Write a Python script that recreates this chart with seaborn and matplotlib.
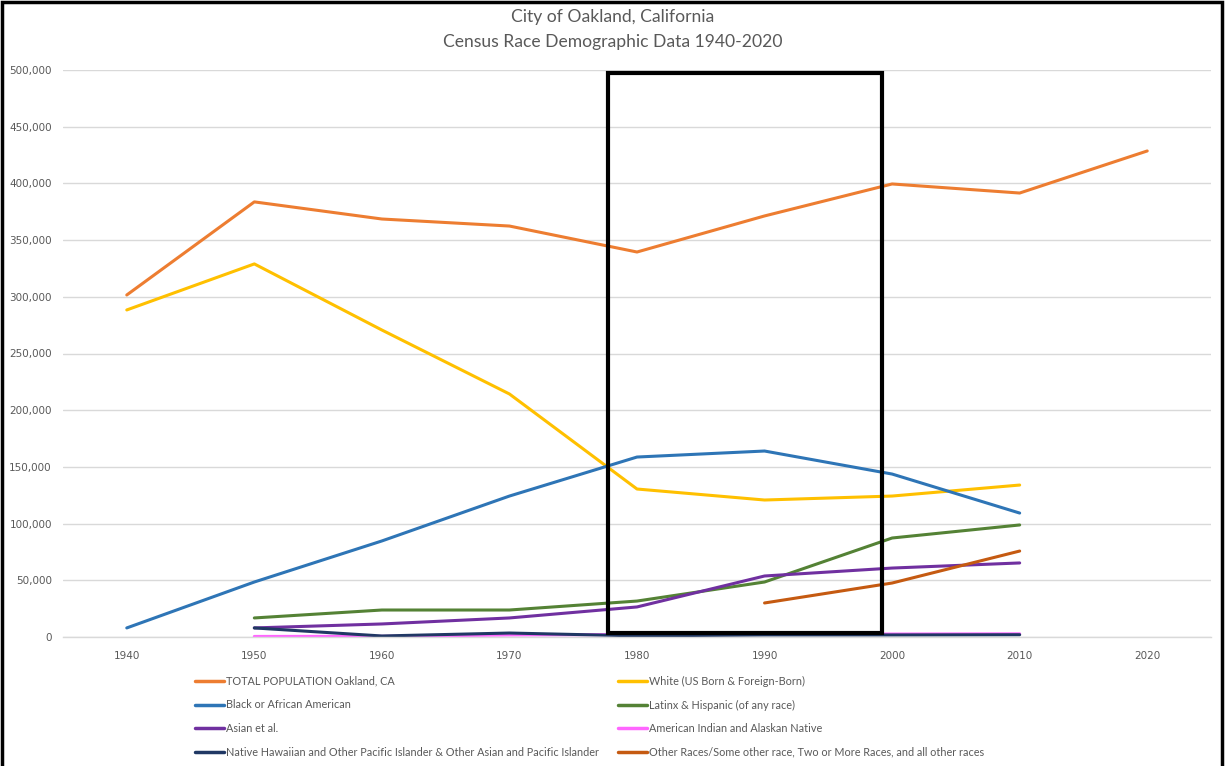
import matplotlib
matplotlib.use("Agg")
import matplotlib.pyplot as plt
import matplotlib.patches as mpatches
from matplotlib.lines import Line2D
from matplotlib.ticker import FuncFormatter
import numpy as np
import pandas as pd
import seaborn as sns

# Census years
years = [1940, 1950, 1960, 1970, 1980, 1990, 2000, 2010, 2020]

# Population by group (None = not reported)
total_population = [301600, 383700, 368600, 362400, 339500, 371300, 399500, 391500, 428600]
white = [288400, 329000, 270700, 214300, 130500, 120800, 124300, 134000, None]
black = [8000, 48500, 84700, 124300, 158700, 164000, 143700, 109300, None]
latinx = [None, 16800, 23800, 23800, 31700, 48500, 87300, 98800, None]
asian = [None, 8000, 11500, 16800, 26500, 53800, 60800, 65300, None]
american_indian = [None, 500, 600, 1800, 2200, 2600, 2600, 2800, None]
pacific_islander = [None, 8000, 900, 3500, 1000, 1800, 1800, 2000, None]
other_races = [None, None, None, None, None, 30000, 47600, 75800, None]

series_names = [
    "TOTAL POPULATION Oakland, CA",
    "White (US Born & Foreign-Born)",
    "Black or African American",
    "Latinx & Hispanic (of any race)",
    "Asian et al.",
    "American Indian and Alaskan Native",
    "Native Hawaiian and Other Pacific Islander & Other Asian and Pacific Islander",
    "Other Races/Some other race, Two or More Races, and all other races",
]
series_values = [total_population, white, black, latinx, asian,
                 american_indian, pacific_islander, other_races]
series_colors = ["#ED7D31", "#FFC000", "#2E75B6", "#548235", "#7030A0",
                 "#FF66FF", "#203864", "#C55A11"]

frames = []
for name, vals in zip(series_names, series_values):
    frames.append(pd.DataFrame({"Year": years, "Population": vals, "Group": name}))
df = pd.concat(frames, ignore_index=True).dropna()
df["Population"] = df["Population"].astype(float)

sns.set_theme(style="white")
plt.rcParams["font.family"] = ["DejaVu Sans"]

fig = plt.figure(figsize=(12.25, 7.66), dpi=100)
ax = fig.add_axes([63 / 1225, 1 - 637 / 766, (1211 - 63) / 1225, (637 - 70) / 766])

sns.lineplot(data=df, x="Year", y="Population", hue="Group",
             hue_order=series_names, palette=series_colors,
             linewidth=2.2, ax=ax, legend=False, sort=True)

ax.set_xlim(1935, 2025)
ax.set_ylim(0, 500000)
ax.set_xticks(years)
ax.set_yticks(np.arange(0, 500001, 50000))
ax.yaxis.set_major_formatter(FuncFormatter(lambda v, p: f"{int(v):,}"))
ax.tick_params(axis="both", length=0, labelsize=7.5, colors="#595959")
ax.tick_params(axis="x", pad=10)
ax.tick_params(axis="y", pad=8)
ax.set_xlabel("")
ax.set_ylabel("")
ax.grid(axis="y", color="#D9D9D9", linewidth=1)
ax.set_axisbelow(True)
for side in ["top", "right", "left"]:
    ax.spines[side].set_visible(False)
ax.spines["bottom"].set_color("#D9D9D9")
ax.spines["bottom"].set_linewidth(1)

# Highlight box over 1980-2000
ax.add_patch(mpatches.Rectangle((1977.7, 3500), 21.5, 494000, fill=False,
                                edgecolor="black", linewidth=3, zorder=5,
                                clip_on=False))

# Title
title_font = ["Lato", "DejaVu Sans"]
fig.text(0.5, 1 - 17 / 766, "City of Oakland, California", ha="center", va="center",
         fontsize=12.6, color="#595959", family=title_font)
fig.text(0.5, 1 - 42 / 766, "Census Race Demographic Data 1940-2020", ha="center",
         va="center", fontsize=12.6, color="#595959", family=title_font)

# Legend: two columns, read row by row
handles = {n: Line2D([], [], color=c, linewidth=2.5) for n, c in zip(series_names, series_colors)}
order = [0, 2, 4, 6, 1, 3, 5, 7]
leg = fig.legend([handles[series_names[i]] for i in order],
                 [series_names[i] for i in order],
                 ncol=2, loc="upper left", bbox_to_anchor=(185 / 1225, 1 - 666 / 766),
                 frameon=False, handlelength=2.7, handletextpad=0.2,
                 columnspacing=1.7, labelspacing=1.17,
                 prop={"family": ["Lato", "DejaVu Sans"], "size": 7.8})
for t in leg.get_texts():
    t.set_color("#595959")

# Outer frame
fig.add_artist(mpatches.Rectangle((2 / 1225, -0.05), 1220 / 1225, 1.05 - 2 / 766,
                                  transform=fig.transFigure, fill=False,
                                  edgecolor="black", linewidth=2.5))

fig.savefig("out.png", dpi=100)
